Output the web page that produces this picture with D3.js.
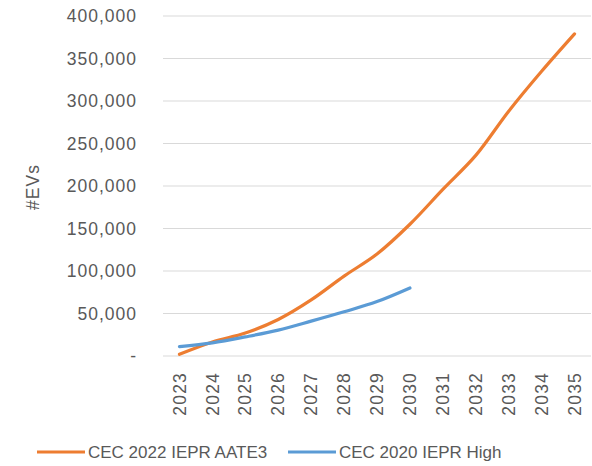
<!DOCTYPE html>
<html>
<head>
<meta charset="utf-8">
<script src="https://cdn.jsdelivr.net/npm/d3@7"></script>
<style>
    body { margin: 0; background: #fff; }
    text { font-family: "Liberation Sans", Arial, sans-serif; fill: #595959; }
</style>
</head>
<body>
<div id="container"></div>
<script>
var years = ["2023", "2024", "2025", "2026", "2027", "2028", "2029", "2030", "2031", "2032", "2033", "2034", "2035"];
var aate3 = [2000, 16500, 27000, 43000, 66000, 94000, 120000, 155000, 196000, 236000, 288000, 335000, 379000];
var high2020 = [11000, 15500, 22500, 30500, 41000, 52000, 64000, 80000];
var yTicks = [0, 50000, 100000, 150000, 200000, 250000, 300000, 350000, 400000];
var seriesNames = ["CEC 2022 IEPR AATE3", "CEC 2020 IEPR High"];
var colors = ["#ED7D31", "#5B9BD5"];

(function() {
    "use strict";

    var margin = { top: 16, left: 163, right: 1, bottom: 110 };
    var totalW = 592, totalH = 466;
    var width = totalW - margin.left - margin.right,
        height = totalH - margin.top - margin.bottom;

    var svg = d3.select("#container").append("svg")
        .attr("width", totalW)
        .attr("height", totalH);

    var graph = svg.append("g")
        .attr("transform", "translate(" + margin.left + "," + margin.top + ")");

    var x = d3.scalePoint().domain(years).range([0, width]).padding(0.5),
        y = d3.scaleLinear().domain([0, 400000]).range([height, 0]);

    var fmt = d3.format(",");

    // gridlines
    graph.selectAll(".grid")
        .data(yTicks)
        .enter().append("line")
            .attr("x1", 0)
            .attr("x2", width)
            .attr("y1", function(d) { return y(d); })
            .attr("y2", function(d) { return y(d); })
            .attr("stroke", "#d9d9d9")
            .attr("stroke-width", 1);

    // y labels
    graph.selectAll(".ylab")
        .data(yTicks)
        .enter().append("text")
            .attr("x", -26)
            .attr("y", function(d) { return y(d); })
            .attr("dy", "0.35em")
            .attr("text-anchor", "end")
            .style("font-size", "17.5px")
            .style("letter-spacing", "1px")
            .text(function(d) { return d === 0 ? "-" : fmt(d); });

    // x labels
    graph.selectAll(".xlab")
        .data(years)
        .enter().append("text")
            .attr("transform", function(d) {
                return "translate(" + x(d) + "," + (height + 16) + ") rotate(-90)";
            })
            .attr("dy", "0.35em")
            .attr("text-anchor", "end")
            .style("font-size", "17.5px")
            .style("letter-spacing", "1.2px")
            .text(function(d) { return d; });

    // y axis title
    svg.append("text")
        .attr("transform", "translate(33,187) rotate(-90)")
        .attr("dy", "0.35em")
        .attr("text-anchor", "middle")
        .style("font-size", "17.5px")
        .style("letter-spacing", "1px")
        .text("#EVs");

    var line = d3.line()
        .x(function(d, i) { return x(years[i]); })
        .y(function(d) { return y(d); })
        .curve(d3.curveCatmullRom.alpha(0.5));

    [aate3, high2020].forEach(function(s, i) {
        graph.append("path")
            .datum(s)
            .attr("fill", "none")
            .attr("stroke", colors[i])
            .attr("stroke-width", 3.2)
            .attr("stroke-linecap", "round")
            .attr("stroke-linejoin", "round")
            .attr("d", line);
    });

    // legend
    var legendX = [37, 288];
    seriesNames.forEach(function(name, i) {
        var g = svg.append("g").attr("transform", "translate(" + legendX[i] + ",452)");
        g.append("line")
            .attr("x1", 0).attr("x2", 48)
            .attr("stroke", colors[i])
            .attr("stroke-width", 3.2);
        g.append("text")
            .attr("x", 51)
            .attr("dy", "0.35em")
            .style("font-size", "17px")
            .text(name);
    });
})();
</script>
</body>
</html>
